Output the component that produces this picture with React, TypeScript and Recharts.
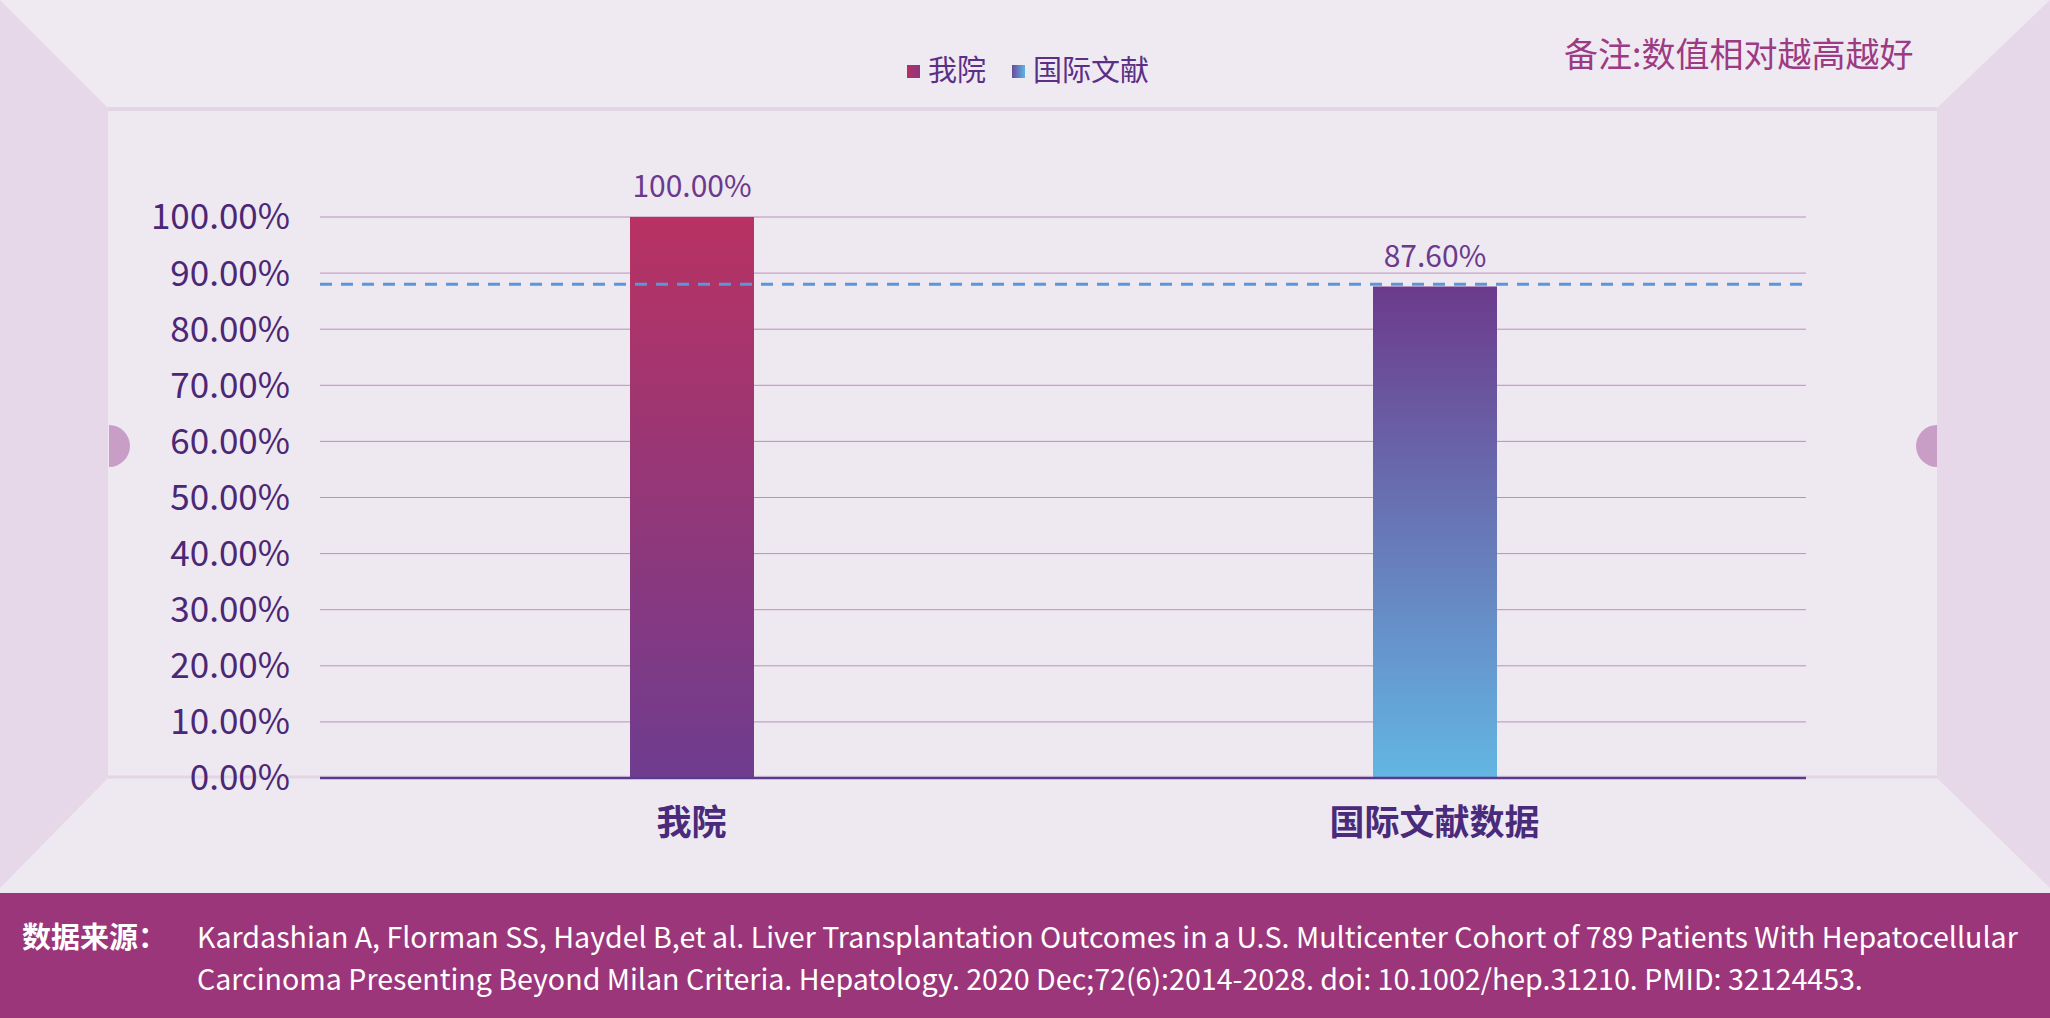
import {
  Bar,
  BarChart,
  CartesianGrid,
  Cell,
  LabelList,
  ReferenceLine,
  XAxis,
  YAxis,
} from "recharts";

/**
 * Comparativo 我院 x 国际文献数据 — uma barra por categoria, linha tracejada
 * marcando o valor de referencia da literatura.
 */

const CATEGORIAS = ["我院", "国际文献数据"];
const VALORES = [100, 87.6];
const LEGENDA = ["我院", "国际文献"];
const Y_TICKS = [0, 10, 20, 30, 40, 50, 60, 70, 80, 90, 100];
const REFERENCIA = 88;
const NOTA = "备注:数值相对越高越好";
const FONTE_TITULO = "数据来源：";
const FONTE_LINHAS = [
  "Kardashian A, Florman SS, Haydel B,et al. Liver Transplantation Outcomes in a U.S. Multicenter Cohort of 789 Patients With Hepatocellular",
  "Carcinoma Presenting Beyond Milan Criteria. Hepatology. 2020 Dec;72(6):2014-2028. doi: 10.1002/hep.31210. PMID: 32124453.",
];

const FONTE = '"Noto Sans CJK SC", "Noto Sans", sans-serif';
const ROXO = "#4b2775";
const GRADIENTES = ["barra-nosso", "barra-intl"];

const dados = CATEGORIAS.map((c, i) => ({ categoria: c, valor: VALORES[i] }));

const pct = (v: unknown) => (typeof v === "number" ? `${v.toFixed(2)}%` : "");

/** A "caixa" em perspectiva atras do grafico: paredes, piso e rodape. */
function Cenario() {
  return (
    <svg
      width={2050}
      height={1018}
      style={{ position: "absolute", left: 0, top: 0 }}
    >
      <rect x={0} y={0} width={2050} height={1018} fill="#eee8f1" />
      <polygon points="0,0 2050,0 1937,108 108,108" fill="#efe9f2" />
      <polygon points="0,0 108,108 108,778 0,888" fill="#e6d8e8" />
      <polygon points="2050,0 1937,108 1937,778 2050,888" fill="#e6d8e8" />
      <line x1={108} y1={109} x2={1937} y2={109} stroke="#e4d5e5" strokeWidth={4} />
      <line x1={108} y1={777} x2={1937} y2={777} stroke="#e4d5e5" strokeWidth={3} />
      <path d="M109,425 A21,21 0 0 1 109,467 Z" fill="#c89ec6" />
      <path d="M1937,425 A21,21 0 0 0 1937,467 Z" fill="#c89ec6" />
      <text
        x={1564}
        y={67}
        fontFamily={FONTE}
        fontSize={34}
        fill="#9c3a84"
      >
        {NOTA}
      </text>
      <rect x={0} y={893} width={2050} height={125} fill="#9c367a" />
      <text
        x={22}
        y={948}
        fontFamily={FONTE}
        fontSize={29}
        fontWeight={700}
        fill="#ffffff"
      >
        {FONTE_TITULO}
      </text>
      {FONTE_LINHAS.map((l, i) => (
        <text
          key={i}
          x={197}
          y={948 + i * 42}
          fontFamily={FONTE}
          fontSize={28.6}
          fill="#ffffff"
        >
          {l}
        </text>
      ))}
    </svg>
  );
}

function Legenda() {
  const quadrados = ["url(#leg-nosso)", "url(#leg-intl)"];
  return (
    <svg
      width={400}
      height={60}
      style={{ position: "absolute", left: 900, top: 40 }}
    >
      <defs>
        <linearGradient id="leg-nosso" x1="0" y1="0" x2="1" y2="0">
          <stop offset="0%" stopColor="#b43064" />
          <stop offset="100%" stopColor="#8e3482" />
        </linearGradient>
        <linearGradient id="leg-intl" x1="0" y1="0" x2="1" y2="0">
          <stop offset="0%" stopColor="#6a4a9e" />
          <stop offset="100%" stopColor="#5cb4e2" />
        </linearGradient>
      </defs>
      {LEGENDA.map((nome, i) => {
        const x0 = i === 0 ? 7 : 112;
        return (
          <g key={nome}>
            <rect x={x0} y={25} width={13} height={13} fill={quadrados[i]} />
            <text
              x={x0 + 21}
              y={41}
              fontFamily={FONTE}
              fontSize={29}
              fill="#5a2f86"
            >
              {nome}
            </text>
          </g>
        );
      })}
    </svg>
  );
}

export default function App() {
  return (
    <div
      style={{
        position: "absolute",
        left: 0,
        top: 0,
        width: 2050,
        height: 1018,
        overflow: "hidden",
        fontFamily: FONTE,
      }}
    >
      <Cenario />
      <Legenda />
      <div style={{ position: "absolute", left: 0, top: 0 }}>
        <BarChart
          width={2050}
          height={893}
          data={dados}
          margin={{ top: 217, right: 244, bottom: 55, left: 0 }}
        >
          <defs>
            <linearGradient id={GRADIENTES[0]} x1="0" y1="0" x2="0" y2="1">
              <stop offset="0%" stopColor="#b83262" />
              <stop offset="100%" stopColor="#6f3c8f" />
            </linearGradient>
            <linearGradient id={GRADIENTES[1]} x1="0" y1="0" x2="0" y2="1">
              <stop offset="0%" stopColor="#6c3a8c" />
              <stop offset="100%" stopColor="#63b6e3" />
            </linearGradient>
          </defs>
          <CartesianGrid vertical={false} stroke="#bc90bc" strokeWidth={1} />
          <XAxis
            dataKey="categoria"
            height={60}
            tickLine={false}
            tickSize={0}
            tickMargin={32}
            axisLine={{ stroke: "#5b3a8a", strokeWidth: 2.5 }}
            tick={{ fontSize: 35, fontWeight: 700, fill: "#4a2a7a", fontFamily: FONTE }}
          />
          <YAxis
            width={320}
            domain={[0, 100]}
            ticks={Y_TICKS}
            interval={0}
            axisLine={false}
            tickLine={false}
            tickSize={0}
            tickMargin={30}
            tickFormatter={pct}
            tick={{ fontSize: 35, fill: ROXO, fontFamily: FONTE }}
          />
          <Bar dataKey="valor" barSize={124} isAnimationActive={false}>
            {dados.map((d, i) => (
              <Cell key={d.categoria} fill={`url(#${GRADIENTES[i]})`} />
            ))}
            <LabelList
              dataKey="valor"
              position="top"
              offset={20}
              formatter={pct}
              fill="#6b3a8c"
              fontSize={30}
              fontFamily={FONTE}
            />
          </Bar>
          <ReferenceLine
            y={REFERENCIA}
            stroke="#5b96dd"
            strokeWidth={3}
            strokeDasharray="12 9"
          />
        </BarChart>
      </div>
    </div>
  );
}
